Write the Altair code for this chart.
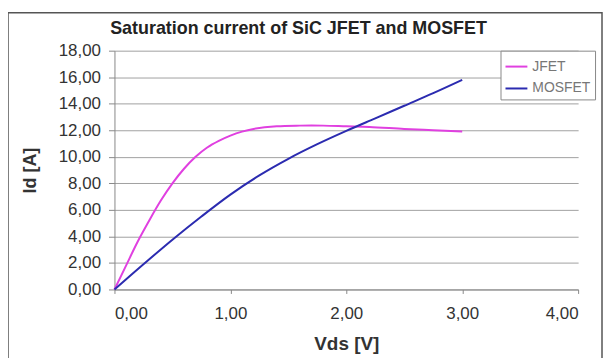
import altair as alt
import pandas as pd

jfet_vds = [0.0, 0.1, 0.2, 0.3, 0.4, 0.5, 0.6, 0.7, 0.8, 0.9, 1.0, 1.1, 1.2, 1.4, 1.6, 1.8, 2.0, 2.2, 2.5, 2.75, 3.0]
jfet_id = [0.0, 1.8, 3.6, 5.2, 6.7, 8.0, 9.1, 10.0, 10.7, 11.2, 11.6, 11.9, 12.1, 12.3, 12.35, 12.35, 12.3, 12.25, 12.1, 12.0, 11.9]

mos_vds = [0.0, 0.25, 0.5, 0.75, 1.0, 1.25, 1.5, 1.75, 2.0, 2.25, 2.5, 2.75, 3.0]
mos_id = [0.0, 1.9, 3.75, 5.5, 7.15, 8.6, 9.85, 10.95, 11.95, 12.9, 13.85, 14.8, 15.8]

series = ["JFET", "MOSFET"]
colors = ["#e040e0", "#2b2bb0"]
title_text = "Saturation current of SiC JFET and MOSFET"

df = pd.concat([
    pd.DataFrame({"Vds": jfet_vds, "Id": jfet_id, "series": "JFET"}),
    pd.DataFrame({"Vds": mos_vds, "Id": mos_id, "series": "MOSFET"}),
])

label_expr = "replace(format(datum.value, '.2f'), '.', ',')"
FONT = "Liberation Sans"

lines = alt.Chart(df).mark_line(strokeWidth=2, interpolate="catmull-rom").encode(
    x=alt.X("Vds:Q", scale=alt.Scale(domain=[0, 4]),
            axis=alt.Axis(title="Vds [V]", values=[0, 1, 2, 3, 4], labelExpr=label_expr,
                          grid=False, tickSize=4, labelPadding=12,
                          titleY=54, titleBaseline="middle", titleFontSize=19)),
    y=alt.Y("Id:Q", scale=alt.Scale(domain=[0, 18]),
            axis=alt.Axis(title="Id [A]", values=list(range(0, 19, 2)), labelExpr=label_expr,
                          grid=True, tickSize=6, labelPadding=8,
                          titleX=-84, titleY=120, titleBaseline="middle", titleFontSize=18)),
    color=alt.Color("series:N", scale=alt.Scale(domain=series, range=colors),
                    legend=alt.Legend(title=None, orient="none", legendX=388, legendY=0,
                                      symbolType="stroke", symbolSize=484, symbolStrokeWidth=2,
                                      labelFontSize=14, labelColor="#777", labelOffset=4,
                                      strokeColor="#888", fillColor="white",
                                      padding=4, rowPadding=3)),
)

frame = alt.Chart(pd.DataFrame({"a": [0]})).mark_rect(
    fill=None, stroke="#555", strokeWidth=1.5, clip=False
).encode(x=alt.value(-107), x2=alt.value(490), y=alt.value(-38), y2=alt.value(330))

title = alt.Chart(pd.DataFrame({"t": [title_text]})).mark_text(
    font=FONT, fontSize=18, fontWeight="bold", color="#222", align="center",
    baseline="alphabetic", clip=False
).encode(text="t:N", x=alt.value(185), y=alt.value(-17))

chart = alt.layer(frame, lines, title).properties(
    width=466, height=240,
    autosize=alt.AutoSizeParams(type="none"),
    padding={"left": 107, "top": 42, "right": 25, "bottom": 68},
).configure_view(stroke=None).configure_axis(
    labelFont=FONT, labelFontSize=17, labelColor="#333",
    titleFont=FONT, titleFontWeight="bold", titleColor="#333",
    domainColor="#888", tickColor="#888", gridColor="#a0a0a0", gridWidth=1,
).configure_legend(labelFont=FONT)

chart.save("out.html", embed_options={"renderer": "svg", "actions": False})
